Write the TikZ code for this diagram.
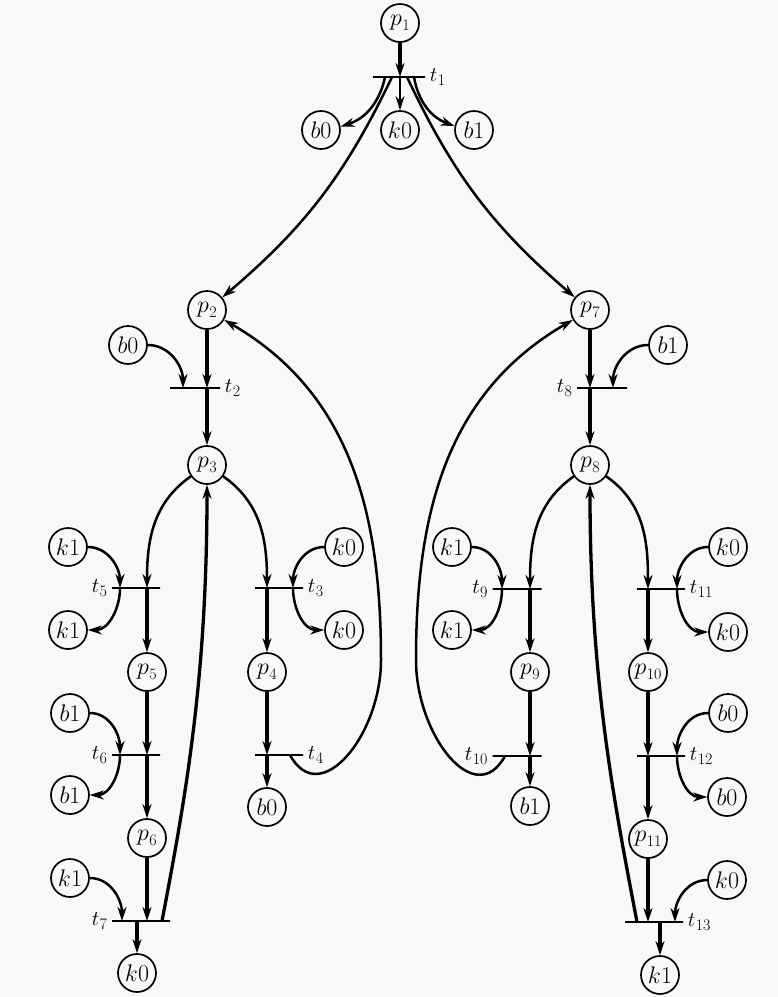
\RequirePackage{fix-cm}
\documentclass[tikz,border=0pt]{standalone}
\usepackage{amsmath}
\usepackage{xcolor}
\usetikzlibrary{arrows.meta,calc}
\definecolor{paper}{RGB}{248,247,250}
% letter with a big index, as in the scan
\newcommand{\petri}[2]{$#1$\kern0.5pt\raisebox{-0.22em}{\fontsize{16}{18}\selectfont #2}}
\tikzstyle{place} = [circle, draw=black, line width=1.7pt, minimum size=38pt, inner sep=0pt, font=\fontsize{24}{28}\selectfont]
\tikzstyle{trans} = [draw=black, line width=1.5pt, inner sep=0pt, minimum height=0pt]
\tikzstyle{lab} = [font=\fontsize{21}{25}\selectfont, inner sep=4pt]
\tikzstyle{arc} = [line width=2.5pt, ->, >={Stealth[length=14pt,width=9pt]}]
\tikzstyle{flow} = [arc, line width=3.3pt]
\begin{document}
\begin{tikzpicture}[x=1pt, y=1pt]
\fill[paper] (0,0) rectangle (778,-997);
\useasboundingbox (0,0) rectangle (778,-997);
% top part
\node[place] (p1) at (400,-23) {\petri{p}{1}};
\node[trans, minimum width=52pt, label={[lab]right:\petri{t}{1}}] (t1) at (399,-77) {};
\node[place] (b0a) at (321,-130) {$b0$};
\node[place] (k0a) at (400,-130) {$k0$};
\node[place] (b1a) at (474,-130) {$b1$};
\draw[flow] (p1) -- (p1|-t1);
\draw[arc] (p1|-t1) -- (k0a);
\draw[arc] ([xshift=-14pt]t1.center) to[bend left=30] (b0a);
\draw[arc] ([xshift=15pt]t1.center) to[bend right=30] (b1a);

% left half
\node[place] (p2) at (207,-310) {\petri{p}{2}};
\node[place] (b0b) at (128,-345) {$b0$};
\node[trans, minimum width=50pt, label={[lab]right:\petri{t}{2}}] (t2) at (195,-388) {};
\node[place] (p3) at (207,-465) {\petri{p}{3}};
\node[place] (k1c) at (68,-547) {$k1$};
\node[trans, minimum width=48pt, label={[lab]left:\petri{t}{5}}] (t5) at (136,-588) {};
\node[place] (k1d) at (68,-630) {$k1$};
\node[place] (p5) at (147,-672) {\petri{p}{5}};
\node[place] (b1c) at (70,-713) {$b1$};
\node[trans, minimum width=48pt, label={[lab]left:\petri{t}{6}}] (t6) at (136,-755) {};
\node[place] (b1d) at (70,-795) {$b1$};
\node[place] (p6) at (147,-838) {\petri{p}{6}};
\node[place] (k1e) at (70,-878) {$k1$};
\node[trans, minimum width=58pt, label={[lab]left:\petri{t}{7}}] (t7) at (141,-921) {};
\node[place] (k0f) at (137,-973) {$k0$};
\node[place] (k0c) at (344,-547) {$k0$};
\node[trans, minimum width=48pt, label={[lab]right:\petri{t}{3}}] (t3) at (279,-588) {};
\node[place] (k0d) at (344,-630) {$k0$};
\node[place] (p4) at (267,-672) {\petri{p}{4}};
\node[trans, minimum width=48pt, label={[lab]right:\petri{t}{4}}] (t4) at (279,-755) {};
\node[place] (b0d) at (267,-807) {$b0$};
\coordinate (w4) at (381,-660);

\draw[flow] (p2) -- (p2|-t2);
\draw[flow] (p2|-t2) -- (p3);
\draw[arc] (b0b) to[out=0,in=90] ([xshift=-12pt]t2.center);
\draw[arc] (p3) to[out=215,in=90] (p5|-t5);
\draw[flow] (p5|-t5) -- (p5);
\draw[arc] (k1c) to[out=0,in=90] ([xshift=-16pt]t5.center);
\draw[arc] ([xshift=-16pt]t5.center) to[out=-90,in=0] (k1d);
\draw[flow] (p5) -- (p5|-t6);
\draw[flow] (p5|-t6) -- (p6);
\draw[arc] (b1c) to[out=0,in=90] ([xshift=-16pt]t6.center);
\draw[arc] ([xshift=-16pt]t6.center) to[out=-90,in=0] (b1d);
\draw[flow] (p6) -- (p6|-t7);
\draw[arc] (k1e) to[out=0,in=90] ([xshift=-19pt]t7.center);
\draw[flow] ([xshift=-4pt]t7.center) -- (k0f);
\draw[flow] ([xshift=21pt]t7.center) .. controls +(23,121) and +(0,-216) .. (p3);
\draw[arc] (p3) to[out=-35,in=90] (p4|-t3);
\draw[flow] (p4|-t3) -- (p4);
\draw[arc] (k0c) to[out=180,in=90] ([xshift=14pt]t3.center);
\draw[arc] ([xshift=14pt]t3.center) to[out=-90,in=180] (k0d);
\draw[flow] (p4) -- (p4|-t4);
\draw[flow] (p4|-t4) -- (b0d);
\draw[arc] ([xshift=11pt]t4.center) .. controls +(30,-55) and +(0,-75) .. (w4) to[out=90,in=-30] (p2);

% right half
\node[place] (p7) at (590,-310) {\petri{p}{7}};
\node[place] (b1b) at (668,-345) {$b1$};
\node[trans, minimum width=50pt, label={[lab]left:\petri{t}{8}}] (t8) at (602,-388) {};
\node[place] (p8) at (590,-465) {\petri{p}{8}};
\node[place] (k1f) at (452,-547) {$k1$};
\node[trans, minimum width=49pt, label={[lab]left:\petri{t}{9}}] (t9) at (517,-589) {};
\node[place] (k1g) at (452,-630) {$k1$};
\node[place] (p9) at (530,-672) {\petri{p}{9}};
\node[trans, minimum width=49pt, label={[lab]left:\petri{t}{10}}] (t10) at (517,-756) {};
\node[place] (b1e) at (530,-806) {$b1$};
\node[place] (k0g) at (728,-547) {$k0$};
\node[trans, minimum width=48pt, label={[lab]right:\petri{t}{11}}] (t11) at (661,-589) {};
\node[place] (k0h) at (728,-632) {$k0$};
\node[place] (p10) at (648,-672) {\petri{p}{10}};
\node[place] (b0e) at (728,-713) {$b0$};
\node[trans, minimum width=48pt, label={[lab]right:\petri{t}{12}}] (t12) at (661,-756) {};
\node[place] (b0f) at (727,-797) {$b0$};
\node[place] (p11) at (648,-839) {\petri{p}{11}};
\node[place] (k0i) at (727,-880) {$k0$};
\node[trans, minimum width=58pt, label={[lab]right:\petri{t}{13}}] (t13) at (654,-922) {};
\node[place] (k1h) at (660,-975) {$k1$};
\coordinate (w10) at (416,-660);

\draw[flow] (p7) -- (p7|-t8);
\draw[flow] (p7|-t8) -- (p8);
\draw[arc] (b1b) to[out=180,in=90] ([xshift=11pt]t8.center);
\draw[arc] (p8) to[out=-145,in=90] (p9|-t9);
\draw[flow] (p9|-t9) -- (p9);
\draw[arc] (k1f) to[out=0,in=90] ([xshift=-15pt]t9.center);
\draw[arc] ([xshift=-15pt]t9.center) to[out=-90,in=0] (k1g);
\draw[flow] (p9) -- (p9|-t10);
\draw[flow] (p9|-t10) -- (b1e);
\draw[arc] ([xshift=-12pt]t10.center) .. controls +(-30,-55) and +(0,-75) .. (w10) to[out=90,in=-150] (p7);
\draw[arc] (p8) to[out=-35,in=90] (p10|-t11);
\draw[flow] (p10|-t11) -- (p10);
\draw[arc] (k0g) to[out=180,in=90] ([xshift=16pt]t11.center);
\draw[arc] ([xshift=16pt]t11.center) to[out=-90,in=180] (k0h);
\draw[flow] (p10) -- (p10|-t12);
\draw[flow] (p10|-t12) -- (p11);
\draw[arc] (b0e) to[out=180,in=90] ([xshift=16pt]t12.center);
\draw[arc] ([xshift=16pt]t12.center) to[out=-90,in=180] (b0f);
\draw[flow] (p11) -- (p11|-t13);
\draw[arc] (k0i) to[out=180,in=90] ([xshift=21pt]t13.center);
\draw[flow] ([xshift=6pt]t13.center) -- (k1h);
\draw[flow] ([xshift=-17pt]t13.center) .. controls +(-23,121) and +(0,-216) .. (p8);

% long arcs from t1
\draw[arc] ([xshift=-7pt]t1.center) to[bend left=12] (p2);
\draw[arc] ([xshift=8pt]t1.center) to[bend right=12] (p7);
\end{tikzpicture}
\end{document}
